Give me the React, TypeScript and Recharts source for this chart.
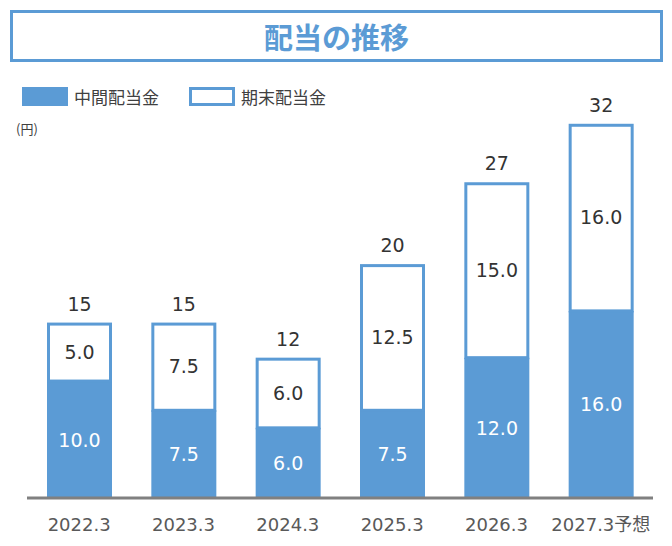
import { BarChart, Bar, XAxis, YAxis, LabelList } from 'recharts'

// fiscal years and dividends (yen)
const years = ['2022.3', '2023.3', '2024.3', '2025.3', '2026.3', '2027.3予想']
const interim = [10.0, 7.5, 6.0, 7.5, 12.0, 16.0]
const yearEnd = [5.0, 7.5, 6.0, 12.5, 15.0, 16.0]

const BLUE = '#5B9BD5'
const FONT = '"DejaVu Sans", "Noto Sans CJK JP", sans-serif'

const data = years.map((year, i) => ({
  year,
  interim: interim[i],
  yearEnd: yearEnd[i],
  total: interim[i] + yearEnd[i],
}))

// white bar with blue outline, kept inside the band
const OutlineBar = (props: any) => {
  const { x, y, width, height } = props
  if (!height) return null
  return (
    <rect
      x={x + 1.5}
      y={y + 1.5}
      width={width - 3}
      height={height - 1.5}
      fill="#fff"
      stroke={BLUE}
      strokeWidth={3}
    />
  )
}

const TotalLabel = (props: any) => {
  const { x, y, width, index } = props
  return (
    <text
      x={x + width / 2}
      y={y - 12}
      fill="#333"
      fontSize={19}
      fontFamily={FONT}
      textAnchor="middle"
    >
      {data[index].total}
    </text>
  )
}

const InsideLabel = (color: string) => (props: any) => {
  const { x, y, width, height, value } = props
  return (
    <text
      x={x + width / 2}
      y={y + height / 2 + 7}
      fill={color}
      fontSize={19}
      fontFamily={FONT}
      textAnchor="middle"
    >
      {Number(value).toFixed(1)}
    </text>
  )
}

const YearTick = (props: any) => {
  const { x, y, payload } = props
  return (
    <text x={x} y={y + 25} fill="#595959" fontSize={18} fontFamily={FONT} textAnchor="middle">
      {payload.value}
    </text>
  )
}

const LegendBox = () => (
  <div
    style={{
      position: 'absolute',
      left: 22,
      top: 84,
      display: 'flex',
      alignItems: 'center',
      fontFamily: FONT,
      fontSize: 17,
      color: '#404040',
    }}
  >
    <span style={{ display: 'inline-block', width: 46, height: 19, background: BLUE }} />
    <span style={{ marginLeft: 6 }}>中間配当金</span>
    <span
      style={{
        display: 'inline-block',
        width: 40,
        height: 13,
        border: `3px solid ${BLUE}`,
        background: '#fff',
        marginLeft: 30,
      }}
    />
    <span style={{ marginLeft: 6 }}>期末配当金</span>
  </div>
)

export default function App() {
  return (
    <div style={{ position: 'absolute', left: 0, top: 0, width: 672, height: 546, background: '#fff' }}>
      <div
        style={{
          position: 'absolute',
          left: 10,
          top: 10,
          width: 647,
          height: 46,
          border: `3px solid ${BLUE}`,
          display: 'flex',
          alignItems: 'center',
          justifyContent: 'center',
          color: BLUE,
          fontFamily: '"Noto Sans CJK JP", sans-serif',
          fontWeight: 700,
          fontSize: 29,
        }}
      >
        配当の推移
      </div>
      <LegendBox />
      <div
        style={{
          position: 'absolute',
          left: 16,
          top: 119,
          fontFamily: '"Noto Sans CJK JP", sans-serif',
          fontSize: 13,
          color: '#404040',
        }}
      >
        (円)
      </div>
      <BarChart
        width={672}
        height={546}
        data={data}
        margin={{ top: 77, right: 19, left: 27, bottom: 18 }}
        barSize={65}
        style={{ position: 'absolute', left: 0, top: 0 }}
      >
        <XAxis
          dataKey="year"
          axisLine={{ stroke: '#808080', strokeWidth: 3 }}
          tickLine={false}
          tick={<YearTick />}
          interval={0}
        />
        <YAxis hide domain={[0, 36]} />
        <Bar dataKey="interim" stackId="a" fill={BLUE} isAnimationActive={false}>
          <LabelList dataKey="interim" content={InsideLabel('#fff')} />
        </Bar>
        <Bar dataKey="yearEnd" stackId="a" shape={<OutlineBar />} isAnimationActive={false}>
          <LabelList dataKey="yearEnd" content={InsideLabel('#333')} />
          <LabelList dataKey="total" content={<TotalLabel />} />
        </Bar>
      </BarChart>
    </div>
  )
}
